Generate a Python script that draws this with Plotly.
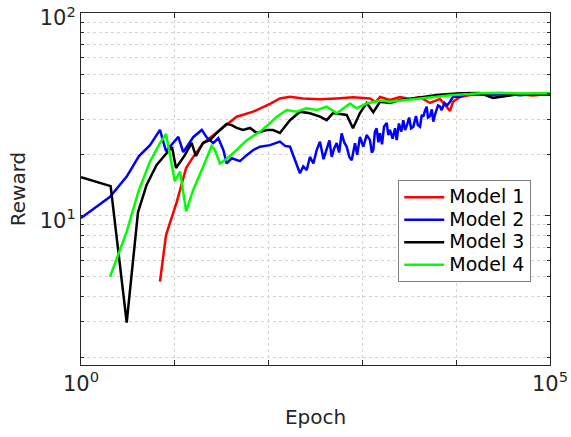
import plotly.graph_objects as go

# ---- data ----
m1_x = [6.95, 8.06, 10.5, 13.2, 15.7, 20.1, 30.3, 45.7, 68.5, 103.5, 132, 169, 232, 353, 532, 794,
        1205, 1380, 1541, 1968, 2517, 3216, 4111, 5258, 6714, 8590, 9247, 10990, 14030, 20000, 30000,
        45000, 65000, 100000]
m1_y = [4.73, 8.03, 11.7, 17.2, 19.5, 22.8, 26.5, 30.8, 32.6, 35.6, 37.9, 38.6, 37.9, 37.5, 37.9, 38.4,
        37.9, 36.4, 38.5, 37.2, 38.5, 37.7, 38.5, 36.0, 37.7, 32.9, 36.5, 38.5, 39.4, 39.6, 39.0,
        39.8, 39.2, 39.9]

m2_x = [1, 2.04, 3.07, 4.15, 5.44, 6.95, 8.06, 10.9, 12.3, 15.7, 19.4, 21.8, 25.7, 29.1, 32.9, 35.7,
        40.4, 49.5, 58.4, 68.7, 81, 103.5, 132, 150, 169, 191, 216, 234, 255, 276, 300, 325, 353, 385,
        416, 445, 471, 500, 532, 565, 601, 640, 680, 725, 769, 834, 880, 942, 1023, 1110, 1205, 1260,
        1306, 1360, 1419, 1480, 1541, 1620, 1700, 1816, 1890, 1968, 2100, 2230, 2321, 2450, 2600,
        2729, 2850, 2965, 3150, 3300, 3490, 3728, 3900, 4111, 4300, 4460, 4650, 4850, 5000, 5250,
        5500, 5700, 6000, 6400, 6714, 7000, 7500, 8000, 8590, 9247, 10990, 12950, 15210, 22000,
        32000, 48000, 70000, 100000]
m2_y = [9.75, 12.4, 15.6, 19.7, 22.3, 26.5, 20.8, 24.5, 20.6, 24.4, 26.5, 24.4, 22.8, 24.1, 21.1, 18.1,
        19.2, 18.6, 19.9, 21.1, 21.9, 22.3, 23.2, 22.1, 21.9, 18.8, 16.2, 17.5, 16.8, 19.5, 18.1, 21.0,
        23.2, 19.0, 21.1, 23.5, 19.5, 21.5, 22.8, 20.5, 25.5, 23.0, 21.9, 19.5, 18.8, 22.8, 20.0, 24.5,
        21.9, 25.0, 23.6, 20.5, 21.1, 26.0, 27.0, 23.0, 25.5, 22.5, 27.5, 28.7, 25.0, 26.5, 24.0, 27.0,
        23.6, 28.5, 26.0, 29.6, 26.5, 27.7, 30.5, 27.0, 27.5, 31.0, 28.0, 27.5, 31.5, 30.8, 33.0, 34.5,
        30.5, 31.0, 33.5, 29.1, 32.0, 35.0, 34.5, 33.2, 36.0, 35.0, 36.5, 38.6, 38.6, 39.8, 39.8, 39.5,
        40.0, 39.3, 39.8, 39.5]

m3_x = [1, 2.07, 3.07, 4.05, 5.0, 6.4, 8.2, 9.33, 10.3, 12.8, 15.1, 16.8, 20.0, 23.7, 28.0, 35.7,
        40.4, 45.7, 53.3, 63.4, 74.7, 95.5, 111, 132, 169, 216, 276, 353, 416, 486, 680, 794, 942,
        1112, 1306, 1541, 1968, 2517, 3460, 6194, 10990, 17940, 24660, 47900, 100000]
m3_y = [15.5, 14.0, 2.97, 10.4, 14.2, 17.8, 20.4, 21.8, 17.2, 19.9, 22.9, 19.7, 22.9, 23.6, 25.6, 28.4,
        28.0, 27.1, 26.5, 27.1, 25.6, 26.5, 26.5, 25.6, 29.6, 32.6, 32.0, 30.8, 29.6, 32.1, 31.4, 27.0,
        32.1, 36.0, 32.4, 36.5, 36.0, 37.2, 37.9, 39.4, 40.2, 40.3, 38.1, 39.8, 39.8]

m4_x = [2.04, 3.07, 4.08, 5.44, 6.95, 8.06, 10.0, 11.4, 13.2, 15.7, 20.1, 24.7, 26.8, 30.3, 34.3, 45.7,
        58.4, 81, 103.5, 122, 156, 199, 255, 326, 416, 532, 738, 869, 1112, 1541, 1968, 2700, 4111,
        6194, 9247, 14030, 17940, 29300, 47900, 100000]
m4_y = [5.0, 8.34, 13.1, 18.5, 22.8, 25.3, 14.8, 16.5, 10.5, 13.4, 17.5, 22.1, 21.1, 18.1, 18.8, 21.1,
        23.6, 26.0, 28.6, 30.8, 33.2, 32.6, 33.9, 33.2, 34.5, 32.0, 35.8, 33.9, 35.8, 37.0, 36.5, 37.2,
        37.9, 38.6, 39.4, 39.8, 40.2, 40.4, 40.1, 40.2]

names = ["Model 1", "Model 2", "Model 3", "Model 4"]
colors = ["#ff0000", "#0000ff", "#000000", "#00ff00"]
series = [(m1_x, m1_y), (m2_x, m2_y), (m3_x, m3_y), (m4_x, m4_y)]

x_tickvals = [1, 100000]
x_ticktext = ["10<sup>0</sup>", "10<sup>5</sup>"]
x_minor = [10, 100, 1000, 10000]
y_tickvals = [10, 100]
y_ticktext = ["10<sup>1</sup>", "10<sup>2</sup>"]
y_minor = [2, 3, 4, 5, 6, 7, 8, 9, 20, 30, 40, 50, 60, 70, 80, 90]

fig = go.Figure()
for (xs, ys), n, c in zip(series, names, colors):
    fig.add_trace(go.Scatter(x=xs, y=ys, mode="lines",
                             name=f"<span style='font-size:19px'>{n}</span>",
                             line=dict(color=c, width=2.5)))

axcol = "#262626"
gridcol = "#d4d4d4"
font = "DejaVu Sans"

fig.update_layout(
    width=571, height=437,
    margin=dict(l=81, r=21, t=13, b=72),
    paper_bgcolor="white", plot_bgcolor="white",
    font=dict(family=font, color=axcol, size=20),
    showlegend=True,
    legend=dict(x=0.96, y=0.5256, xanchor="right", yanchor="top",
                bgcolor="white", bordercolor="#808080", borderwidth=1,
                font=dict(family=font, size=15, color="#000000"),
                tracegroupgap=0, itemwidth=40),
)
fig.update_xaxes(
    type="log", range=[-0.0001, 5.0001], automargin=False, ticklabeloverflow="allow",
    tickmode="array", tickvals=x_tickvals, ticktext=x_ticktext,
    ticks="inside", ticklen=5, tickcolor=axcol, tickfont=dict(size=21),
    showline=True, linecolor=axcol, linewidth=1, mirror="allticks",
    showgrid=True, gridcolor=gridcol, griddash="dot", gridwidth=1,
    minor=dict(tickmode="array", tickvals=x_minor, ticks="inside", ticklen=5,
               tickcolor=axcol, showgrid=True, gridcolor=gridcol, griddash="dot", gridwidth=1),
    zeroline=False,
    title=dict(text="Epoch", font=dict(size=20), standoff=14),
)
fig.update_yaxes(
    type="log", range=[0.2635, 2.0001], automargin=False, ticklabeloverflow="allow",
    tickmode="array", tickvals=y_tickvals, ticktext=y_ticktext, ticklabelshift=5,
    ticks="inside", ticklen=5, tickcolor=axcol, tickfont=dict(size=21),
    showline=True, linecolor=axcol, linewidth=1, mirror="allticks",
    showgrid=True, gridcolor=gridcol, griddash="dot", gridwidth=1,
    minor=dict(tickmode="array", tickvals=y_minor, ticks="inside", ticklen=3,
               tickcolor=axcol, showgrid=True, gridcolor=gridcol, griddash="dot", gridwidth=1),
    zeroline=False,
    title=dict(text="Reward", font=dict(size=20), standoff=8),
)

fig.write_html("out.html")
